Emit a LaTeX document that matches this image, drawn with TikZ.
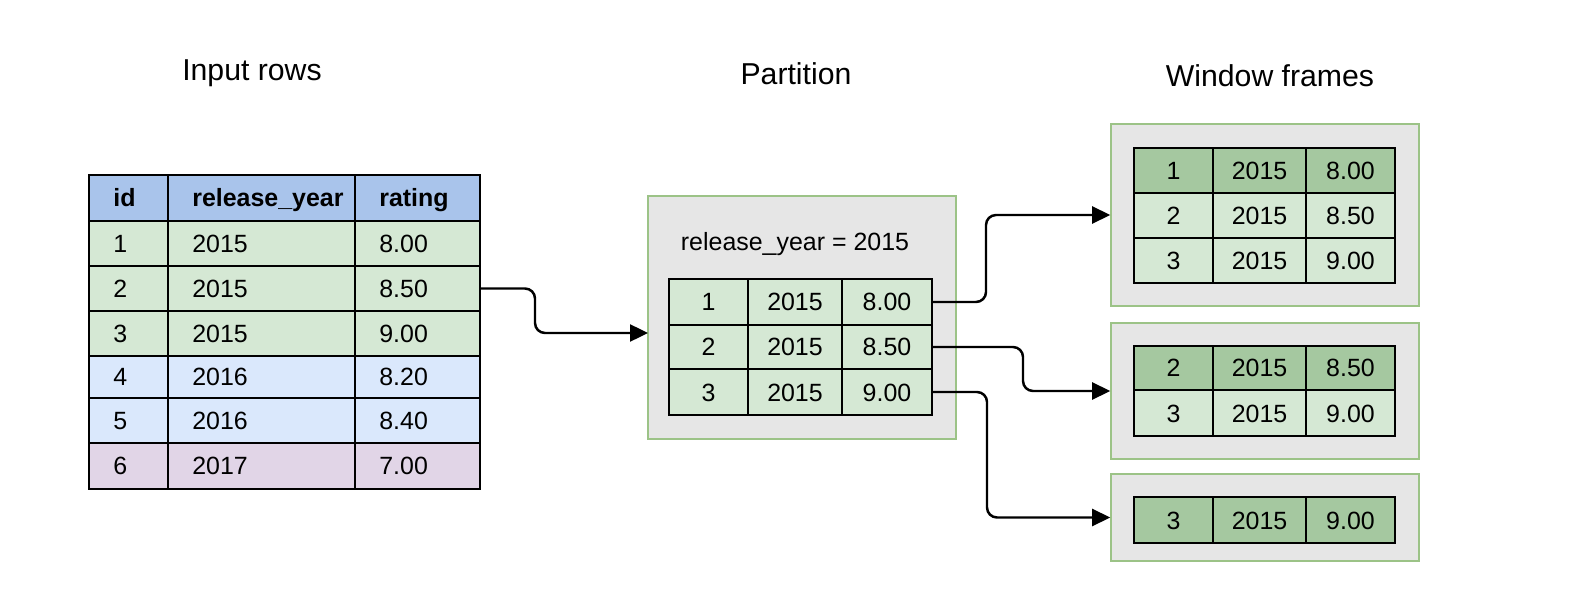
\documentclass[tikz,border=0pt]{standalone}
\usepackage{fontspec}
\setmainfont{Liberation Sans}
\usetikzlibrary{arrows.meta}
\definecolor{hdrblue}{HTML}{A9C4EB}
\definecolor{rowgreen}{HTML}{D5E8D4}
\definecolor{rowblue}{HTML}{DAE8FC}
\definecolor{rowpurple}{HTML}{E1D5E7}
\definecolor{curgreen}{HTML}{A5C8A0}
\definecolor{framegray}{HTML}{E6E6E6}
\definecolor{framegreen}{HTML}{9CC387}
\tikzset{
  cellfont/.style={font=\fontsize{14.2}{17}\selectfont, text height=0.36cm, text depth=0pt},
  cell/.style={draw=black, line width=1pt, inner sep=0pt, outer sep=0pt, cellfont},
  inlbl/.style={anchor=west, xshift=0.48cm, inner sep=0pt, cellfont},
  frame/.style={draw=framegreen, fill=framegray, line width=0.9pt, inner sep=0pt},
  title/.style={font=\fontsize{17.2}{20}\selectfont, anchor=base},
  flow/.style={line width=1.4pt, rounded corners=0.2cm, -{Triangle[length=0.36cm,width=0.34cm]}},
}
\begin{document}
\begin{tikzpicture}[x=0.02cm, y=-0.02cm]
    \useasboundingbox (0,0) rectangle (1580,608);
    % titles
    \node [title] (t-in) at (252,81) {Input rows};
    \node [title] (t-part) at (796,85) {Partition};
    \node [title] (t-win) at (1270,87) {Window frames};
    % input rows
    \foreach \ya/\yb/\id/\yr/\rt/\clr [count=\r from 0] in {
        175/221/{\textbf{id}}/{\textbf{release\_year}}/{\textbf{rating}}/hdrblue,
        221/266/1/2015/8.00/rowgreen, 266/311/2/2015/8.50/rowgreen, 311/356/3/2015/9.00/rowgreen,
        356/398/4/2016/8.20/rowblue, 398/443/5/2016/8.40/rowblue, 443/489/6/2017/7.00/rowpurple}
      \foreach \xa/\xb/\txt [count=\c] in {89/168/\id, 168/355/\yr, 355/480/\rt}
        \node [cell, fill=\clr, minimum width={(\xb-\xa)*0.02cm}, minimum height={(\yb-\ya)*0.02cm},
          label={[inlbl]west:\txt}] (in-\r-\c) at ({(\xa+\xb)/2},{(\ya+\yb)/2}) {};
    % partition
    \node [frame, minimum width=308*0.02cm, minimum height=243*0.02cm] (part) at (802,317.5) {};
    \node [cellfont, inner sep=0pt] (part-key) at (795,242) {release\_year = 2015};
    \foreach \ya/\yb/\id/\rt [count=\r] in {279/325/1/8.00, 325/369/2/8.50, 369/415/3/9.00}
      \foreach \xa/\xb/\txt [count=\c] in {669/748/\id, 748/842/2015, 842/932/\rt}
        \node [cell, fill=rowgreen, minimum width={(\xb-\xa)*0.02cm}, minimum height={(\yb-\ya)*0.02cm}]
          (p-\r-\c) at ({(\xa+\xb)/2},{(\ya+\yb)/2}) {\txt};
    % window frames
    \node [frame, minimum width=308*0.02cm, minimum height=182*0.02cm] (win1) at (1265,215) {};
    \node [frame, minimum width=308*0.02cm, minimum height=136*0.02cm] (win2) at (1265,391) {};
    \node [frame, minimum width=308*0.02cm, minimum height=87*0.02cm] (win3) at (1265,517.5) {};
    \foreach \w/\ya/\yb/\id/\rt/\clr in {
        1/148/193/1/8.00/curgreen, 1/193/238/2/8.50/rowgreen, 1/238/283/3/9.00/rowgreen,
        2/346/390/2/8.50/curgreen, 2/390/436/3/9.00/rowgreen,
        3/497/543/3/9.00/curgreen}
      \foreach \xa/\xb/\txt [count=\c] in {1134/1213/\id, 1213/1306/2015, 1306/1395/\rt}
        \node [cell, fill=\clr, minimum width={(\xb-\xa)*0.02cm}, minimum height={(\yb-\ya)*0.02cm}]
          (w\w-\id-\c) at ({(\xa+\xb)/2},{(\ya+\yb)/2}) {\txt};
    % connectors
    \coordinate (part-in) at (648,333);
    \draw [flow] (in-2-3.east) -- (535,0 |- in-2-3.east) |- (part-in);
    \draw [flow] (p-1-3.east) -- (986,0 |- p-1-3.east) |- (win1.west);
    \draw [flow] (p-2-3.east) -- (1023,0 |- p-2-3.east) |- (win2.west);
    \draw [flow] (p-3-3.east) -- (987,0 |- p-3-3.east) |- (win3.west);
\end{tikzpicture}
\end{document}
